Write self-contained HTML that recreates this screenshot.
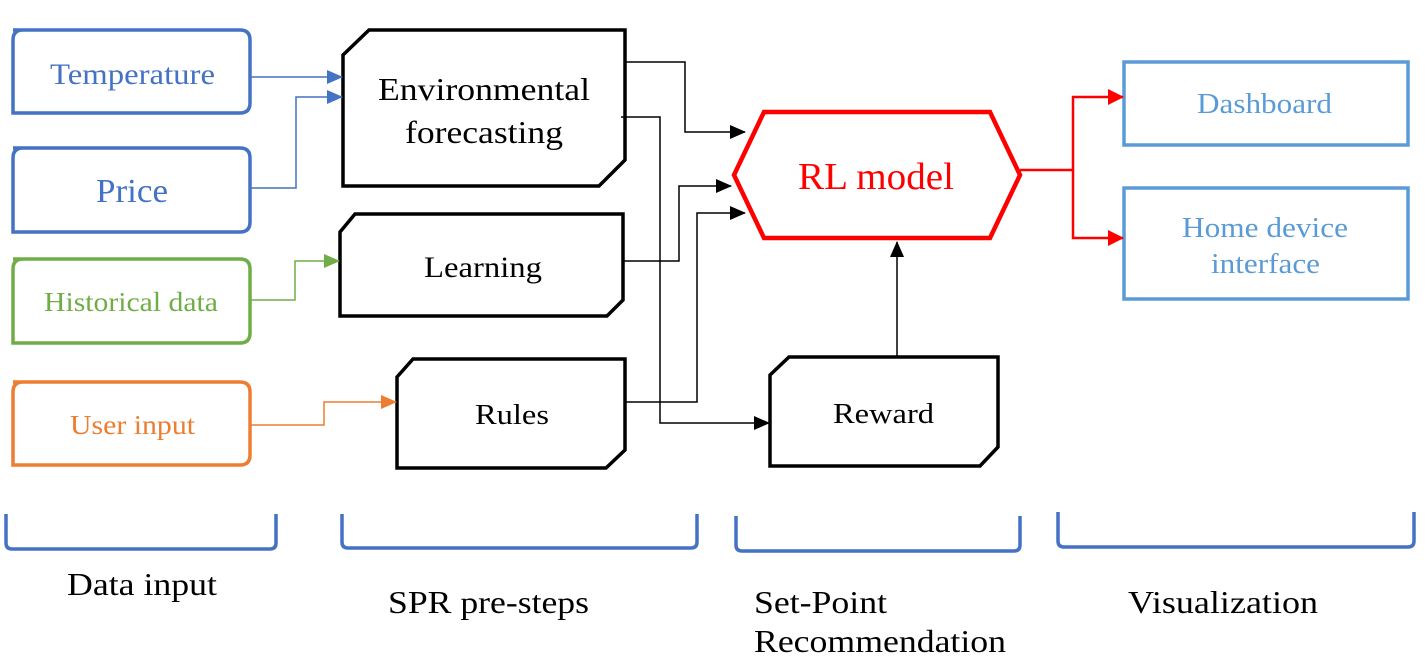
<!DOCTYPE html>
<html><head><meta charset="utf-8"><style>
html,body{margin:0;padding:0;background:#fff;}
svg{display:block;}
text{font-family:"Liberation Serif",serif;}
</style></head><body>
<svg width="1426" height="668" viewBox="0 0 1426 668" xmlns="http://www.w3.org/2000/svg">
<defs>
<marker id="ab" markerWidth="16" markerHeight="14" refX="15" refY="7" orient="auto" markerUnits="userSpaceOnUse"><path d="M0,0 L16,7 L0,14z" fill="#4472C4"/></marker>
<marker id="ag" markerWidth="16" markerHeight="14" refX="15" refY="7" orient="auto" markerUnits="userSpaceOnUse"><path d="M0,0 L16,7 L0,14z" fill="#70AD47"/></marker>
<marker id="ao" markerWidth="16" markerHeight="14" refX="15" refY="7" orient="auto" markerUnits="userSpaceOnUse"><path d="M0,0 L16,7 L0,14z" fill="#ED7D31"/></marker>
<marker id="ak" markerWidth="16" markerHeight="14" refX="15" refY="7" orient="auto" markerUnits="userSpaceOnUse"><path d="M0,0 L16,7 L0,14z" fill="#000"/></marker>
<marker id="ar" markerWidth="16" markerHeight="16" refX="15" refY="8" orient="auto" markerUnits="userSpaceOnUse"><path d="M0,0 L16,8 L0,16z" fill="#f00"/></marker>
</defs>
<g fill="none" stroke-width="3.5">
<path d="M13,30 H240 Q250,30 250,40 V103 Q250,113 240,113 H13 V40 Q13,30 23,30z" stroke="#4472C4"/>
<path d="M13,148 H240 Q250,148 250,158 V222 Q250,232 240,232 H13 V158 Q13,148 23,148z" stroke="#4472C4"/>
<path d="M13,259 H240 Q250,259 250,269 V333 Q250,343 240,343 H13 V269 Q13,259 23,259z" stroke="#70AD47"/>
<path d="M13,382 H240 Q250,382 250,392 V455 Q250,465 240,465 H13 V392 Q13,382 23,382z" stroke="#ED7D31"/>
<path d="M369,30 H625 V160 L599,186 H343 V55z" stroke="#000"/>
<path d="M355,214 H623 V300 L607,316 H340 V232z" stroke="#000"/>
<path d="M413,359 H625 V450 L606,468 H397 V377z" stroke="#000"/>
<path d="M789,357 H998 V447 L980,466 H770 V375z" stroke="#000"/>
<path d="M764,112 H990 L1020,175 L990,238 H764 L734,175z" stroke="#f00" stroke-width="4.5"/>
<rect x="1124" y="62" width="284" height="83" stroke="#5B9BD5"/>
<rect x="1124" y="188" width="284" height="111" stroke="#5B9BD5"/>
</g>
<g fill="none" stroke-width="1.5">
<path d="M250,77 H342" stroke="#4472C4" marker-end="url(#ab)"/>
<path d="M250,188 H296 V97 H342" stroke="#4472C4" marker-end="url(#ab)"/>
<path d="M250,300 H295 V261 H339" stroke="#70AD47" marker-end="url(#ag)"/>
<path d="M250,425 H324 V402 H396" stroke="#ED7D31" marker-end="url(#ao)"/>
<path d="M625,62 H685 V132 H745" stroke="#000" marker-end="url(#ak)"/>
<path d="M621,117 H660 V423 H769" stroke="#000" marker-end="url(#ak)"/>
<path d="M623,261 H679 V186 H731" stroke="#000" marker-end="url(#ak)"/>
<path d="M625,402 H697 V213 H745" stroke="#000" marker-end="url(#ak)"/>
<path d="M897,357 V242" stroke="#000" marker-end="url(#ak)"/>
<path d="M1020,170 H1073 V97 H1123" stroke="#f00" stroke-width="2.5" marker-end="url(#ar)"/>
<path d="M1073,170 V238 H1123" stroke="#f00" stroke-width="2.5" marker-end="url(#ar)"/>
</g>
<g fill="none" stroke="#4472C4" stroke-width="3.5">
<path d="M6,514 V543 Q6,549 12,549 H270 Q276,549 276,543 V514"/>
<path d="M342,514 V542 Q342,548 348,548 H691 Q697,548 697,542 V514"/>
<path d="M736,516 V545 Q736,551 742,551 H1014 Q1020,551 1020,545 V516"/>
<path d="M1058,512 V541 Q1058,547 1064,547 H1408 Q1414,547 1414,541 V512"/>
</g>
<g lengthAdjust="spacingAndGlyphs">
<text x="50" y="84" font-size="30" fill="#4472C4" textLength="165" lengthAdjust="spacingAndGlyphs">Temperature</text>
<text x="96" y="202" font-size="34" fill="#4472C4" textLength="72" lengthAdjust="spacingAndGlyphs">Price</text>
<text x="44" y="311" font-size="27" fill="#70AD47" textLength="174" lengthAdjust="spacingAndGlyphs">Historical data</text>
<text x="70" y="434" font-size="27" fill="#ED7D31" textLength="125" lengthAdjust="spacingAndGlyphs">User input</text>
<text x="378" y="100" font-size="32" fill="#000" textLength="212" lengthAdjust="spacingAndGlyphs">Environmental</text>
<text x="405" y="143" font-size="32" fill="#000" textLength="158" lengthAdjust="spacingAndGlyphs">forecasting</text>
<text x="424" y="277" font-size="30" fill="#000" textLength="118" lengthAdjust="spacingAndGlyphs">Learning</text>
<text x="475" y="424" font-size="29" fill="#000" textLength="74" lengthAdjust="spacingAndGlyphs">Rules</text>
<text x="833" y="423" font-size="29" fill="#000" textLength="101" lengthAdjust="spacingAndGlyphs">Reward</text>
<text x="798" y="189" font-size="38" fill="#f00" textLength="156" lengthAdjust="spacingAndGlyphs">RL model</text>
<text x="1197" y="113" font-size="29" fill="#5B9BD5" textLength="135" lengthAdjust="spacingAndGlyphs">Dashboard</text>
<text x="1182" y="237" font-size="29" fill="#5B9BD5" textLength="166" lengthAdjust="spacingAndGlyphs">Home device</text>
<text x="1211" y="273" font-size="29" fill="#5B9BD5" textLength="109" lengthAdjust="spacingAndGlyphs">interface</text>
<text x="67" y="595" font-size="32" fill="#000" textLength="150" lengthAdjust="spacingAndGlyphs">Data input</text>
<text x="388" y="613" font-size="32" fill="#000" textLength="201" lengthAdjust="spacingAndGlyphs">SPR pre-steps</text>
<text x="754" y="613" font-size="32" fill="#000" textLength="133" lengthAdjust="spacingAndGlyphs">Set-Point</text>
<text x="754" y="652" font-size="32" fill="#000" textLength="252" lengthAdjust="spacingAndGlyphs">Recommendation</text>
<text x="1128" y="613" font-size="32" fill="#000" textLength="190" lengthAdjust="spacingAndGlyphs">Visualization</text>
</g>
</svg>
</body></html>
